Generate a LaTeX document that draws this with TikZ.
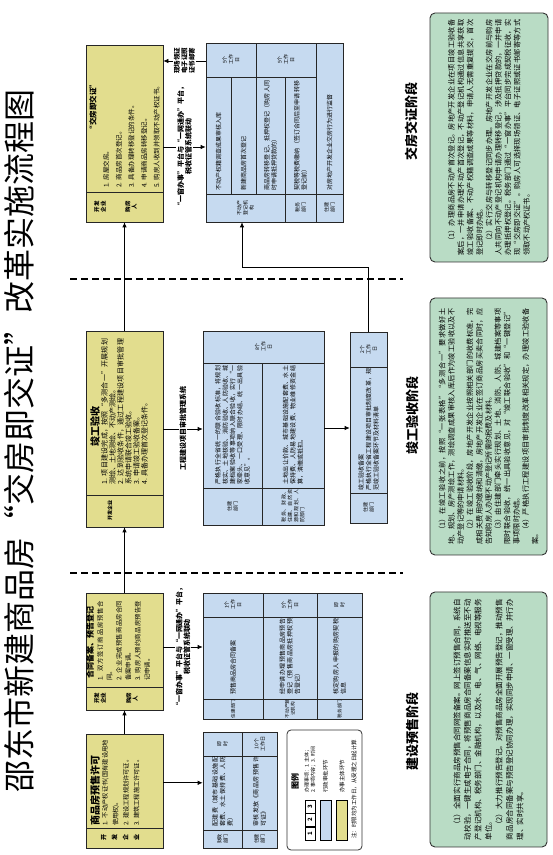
\documentclass[tikz,border=0pt]{standalone}
\usepackage{fontspec}
\setmainfont{Noto Sans CJK SC}
\XeTeXlinebreaklocale "zh"
\XeTeXlinebreakskip=0pt plus 1pt
\usepackage{xcolor}
\usepackage{tikz}
\usetikzlibrary{arrows.meta, positioning, calc}

\definecolor{stepyellow}{HTML}{E2DD8E}
\definecolor{stepblue}{HTML}{C6DAF0}
\definecolor{stagegreen}{HTML}{B9DCC5}

\begin{document}
\begin{tikzpicture}[x=1pt, y=1pt, rotate=90, transform shape,
  ybox/.style={draw=black!85, fill=stepyellow, line width=0.7pt, inner sep=0pt},
  bbox/.style={draw=black!85, fill=stepblue, line width=0.7pt, inner sep=0pt},
  gbox/.style={draw=black!80, fill=stagegreen, line width=0.9pt, rounded corners=5pt, inner sep=0pt},
  boxsize/.style 2 args={minimum width=#1pt, minimum height=#2pt},
  cellline/.style={draw=black!85, line width=0.6pt},
  cell/.style={inner sep=0pt, align=center, font=\fontsize{5}{6.2}\selectfont},
  para/.style={inner sep=0pt, align=justify, text width=#1pt},
  steptitle/.style={inner sep=0pt, font=\bfseries\fontsize{#1}{#1}\selectfont},
  flow/.style={-{Latex[length=5pt,width=4.5pt]}, line width=0.7pt},
  lbl/.style={fill=white, inner sep=1pt, align=center, font=\bfseries\fontsize{7}{7.8}\selectfont},
  stageline/.style={line width=1.1pt, dash pattern=on 7pt off 4pt},
  stagehead/.style={font=\bfseries\fontsize{13}{13}\selectfont}
]
  \useasboundingbox (0,0) rectangle (855,-553);
  \fill[white] (0,0) rectangle (855,-553);

  % title
  \node[font=\fontsize{32}{32}\selectfont] (title) at (414,-19.5)
    {邵东市新建商品房“交房即交证”改革实施流程图};

  % stage borders
  \draw[stageline] (282,-70) -- (282,-403);
  \draw[stageline] (576,-70) -- (576,-403);

  % stage 1: pre-sale permit
  \node[ybox, boxsize={114}{77}] (ysale) at (64,-124.5) {};
  \draw[cellline] (27,-86) -- (27,-163);
  \node[cell, font=\bfseries\fontsize{6}{11}\selectfont] (saledev) at (17,-120) {开\\发\\企\\业};
  \node[steptitle=10, anchor=west] (saletitle) at (29,-95) {商品房预售许可};
  \node[para=86, anchor=north west, font=\fontsize{6.2}{10.5}\selectfont] (salebody) at (29,-102)
    {1. 不动产权证书(国有建设用地使用权)。\\2. 建设工程规划许可证。\\3. 建筑工程施工许可证。};

  % stage 1: contract filing and advance registration
  \node[ybox, boxsize={117}{77}] (ycontract) at (203.5,-124.5) {};
  \draw[cellline] (168,-86) -- (168,-163);
  \node[cell, font=\bfseries\fontsize{5.5}{6.5}\selectfont] (contractdev) at (156.5,-100) {开发\\企业};
  \node[cell, font=\bfseries\fontsize{5.5}{6.5}\selectfont] (contractbuyer) at (156.5,-132) {购房\\人};
  \node[steptitle=8, anchor=west] (contracttitle) at (176,-90) {合同备案、预告登记};
  \node[para=80, anchor=north west, font=\fontsize{6.3}{9.4}\selectfont] (contractbody) at (174,-97)
    {1. 双方签订商品房预售合同。\\2. 企业完成预售商品房合同备案申请。\\3. 购房人预约商品房预告登记申请。};

  % stage 2: completion acceptance
  \node[ybox, boxsize={196}{77}] (yaccept) at (426,-124.5) {};
  \draw[cellline] (360,-86) -- (360,-163);
  \node[cell, font=\bfseries\fontsize{5}{6}\selectfont] (acceptdev) at (344,-110) {开发企业};
  \node[steptitle=10] (accepttitle) at (428,-95) {竣工验收};
  \node[para=146, anchor=north west, font=\fontsize{7}{8}\selectfont] (acceptbody) at (370,-101)
    {1. 项目建设完成，按照“多测合一”开展规划测绘、土地测绘、不动产测绘。\\2. 达到验收条件，通过工程建设项目审批管理系统申请联合竣工验收。\\3. 申请竣工验收备案。\\4. 具备办理首次登记条件。};

  % stage 3: handover with certificate
  \node[ybox, boxsize={177}{77}] (ydeliver) at (721.5,-124.5) {};
  \draw[cellline] (663,-86) -- (663,-163);
  \node[cell, font=\bfseries\fontsize{5.5}{6.5}\selectfont] (deliverdev) at (648,-100) {开发\\企业};
  \node[cell, font=\bfseries\fontsize{5.5}{6.5}\selectfont] (deliverbuyer) at (648,-131) {购房\\人};
  \node[steptitle=7.5] (delivertitle) at (748,-93) {“交房即交证”};
  \node[para=140, anchor=north west, font=\fontsize{6.5}{12.6}\selectfont] (deliverbody) at (667,-103)
    {1. 房屋交房。\\2. 商品房首次登记。\\3. 具备办理转移登记的条件。\\4. 申请商品房转移登记。\\5. 购房人收到并领取不动产权证书。};

  % departments: pre-sale permit
  \node[bbox, boxsize={116}{74}] (bsale) at (65,-240) {};
  \draw[cellline] (25,-203) -- (25,-277);
  \draw[cellline] (99,-203) -- (99,-277);
  \draw[cellline] (7,-242) -- (123,-242);
  \node[cell] (feerole) at (16,-222.5) {财政\\部门};
  \node[para=70, anchor=west, font=\fontsize{6}{7.5}\selectfont] (feetext) at (28,-222.5)
    {配建费（城市基础设施配套费、水土保持费、人防费）};
  \node[cell] (feetime) at (111,-222.5) {即\\时};
  \node[cell] (permitrole) at (16,-259.5) {住建\\部门};
  \node[para=70, anchor=west, font=\fontsize{6}{7.5}\selectfont] (permittext) at (28,-259.5)
    {审核发放《商品房预售许可证》};
  \node[cell] (permittime) at (111,-259.5) {10个\\工作日};

  % departments: contract filing
  \node[bbox, boxsize={126}{159}] (bcontract) at (199,-282.5) {};
  \draw[cellline] (156,-203) -- (156,-362);
  \draw[cellline] (238,-203) -- (238,-362);
  \draw[cellline] (136,-263) -- (262,-263);
  \draw[cellline] (136,-317) -- (262,-317);
  \node[cell, font=\fontsize{4.6}{5.8}\selectfont] (filerole) at (146,-233) {住建部门};
  \node[para=76, anchor=west, font=\fontsize{6}{7.5}\selectfont] (filetext) at (160,-233) {预售商品房合同备案};
  \node[cell] (filetime) at (250,-233) {1个\\工作\\日};
  \node[cell, font=\fontsize{4.6}{5.8}\selectfont] (noticerole) at (146,-290) {不动产登\\记机构};
  \node[para=76, anchor=west, font=\fontsize{6}{7.5}\selectfont] (noticetext) at (160,-290)
    {经申请办理预售商品房预告登记（预售商品房抵押权预告登记）};
  \node[cell] (noticetime) at (250,-290) {5个\\工作\\日};
  \node[cell, font=\fontsize{4.6}{5.8}\selectfont] (taxrole) at (146,-339.5) {税务部门};
  \node[para=76, anchor=west, font=\fontsize{6}{7.5}\selectfont] (taxtext) at (160,-339.5)
    {核定购房人申报的购房契税信息};
  \node[cell] (taxtime) at (250,-339.5) {即\\时};

  % departments: acceptance
  \node[bbox, boxsize={194}{121}] (bcheck) at (427,-263.5) {};
  \draw[cellline] (367,-203) -- (367,-324);
  \draw[cellline] (492,-203) -- (492,-324);
  \draw[cellline] (330,-262) -- (492,-262);
  \node[cell] (checktime) at (508,-263.5) {8个\\工作\\日};
  \node[cell] (checkrole) at (348.5,-232.5) {住建\\部门};
  \node[para=119, anchor=west, font=\fontsize{6}{7.3}\selectfont] (checktext) at (370,-232.5)
    {严格执行全省统一的联合验收标准，将规划核实、土地核验、消防验收、人防验收、城建档案验收等事项纳入联合验收，实行“一家牵头、一口受理、限时办结、统一出具验收意见”。};
  \node[para=33, font=\fontsize{5}{6.2}\selectfont] (payrole) at (348.5,-293) {税务、财政、住建、自然资源和规划、人防部门};
  \node[para=119, anchor=west, font=\fontsize{6}{7.3}\selectfont] (paytext) at (370,-293)
    {土地出让价款、城市基础设施配套费、水土保持费、人防易地建设费、物业维修资金结算，清缴或抵扣。};

  % departments: acceptance filing
  \node[bbox, boxsize={191}{37}] (brecord) at (427.5,-368.5) {};
  \draw[cellline] (362,-350) -- (362,-387);
  \draw[cellline] (488,-350) -- (488,-387);
  \node[cell] (recordrole) at (347,-368.5) {住建\\部门};
  \node[para=122, anchor=west, font=\fontsize{6}{7.5}\selectfont] (recordtext) at (364,-368.5)
    {竣工验收备案\\严格执行全省工程建设项目审批制度改革，规范竣工验收备案环节及材料清单};
  \node[cell] (recordtime) at (505.5,-368.5) {2个\\工作\\日};

  % departments: handover
  \node[bbox, boxsize={179}{137}] (bdeliver) at (722.5,-274.5) {};
  \draw[cellline] (661,-206) -- (661,-343);
  \draw[cellline] (778,-206) -- (778,-316);
  \draw[cellline] (661,-231) -- (778,-231);
  \draw[cellline] (661,-256) -- (812,-256);
  \draw[cellline] (633,-285) -- (778,-285);
  \draw[cellline] (633,-316) -- (812,-316);
  \node[cell] (regrole) at (647,-245.5) {不动产\\登记机\\构};
  \node[cell] (dtaxrole) at (647,-300.5) {税务\\部门};
  \node[cell] (superrole) at (647,-329.5) {住建\\部门};
  \node[cell] (firsttime) at (795,-231) {5个\\工作\\日};
  \node[cell] (transfertime) at (795,-286) {5个\\工作\\日};
  \node[para=110, anchor=west, font=\fontsize{6}{7.3}\selectfont] (surveytext) at (664,-218.5) {不动产权籍调查成果审核入库};
  \node[para=110, anchor=west, font=\fontsize{6}{7.3}\selectfont] (firsttext) at (664,-243.5) {新建商品房首次登记};
  \node[para=110, anchor=west, font=\fontsize{6}{7.3}\selectfont] (transfertext) at (664,-270.5)
    {商品房转移登记、抵押权登记（购房人同时申请抵押贷款的）};
  \node[para=110, anchor=west, font=\fontsize{6}{7.3}\selectfont] (dtaxtext) at (664,-300.5)
    {契税等税费缴纳（签订合同后至申请转移登记前）};
  \node[para=140, anchor=west, font=\fontsize{6}{7.3}\selectfont] (supertext) at (664,-329.5)
    {对房地产开发企业交房行为进行监督};

  % connectors
  \coordinate (contractpath) at (208,-183);
  \coordinate (deliverpath) at (708,-183);
  \coordinate (pickuppath) at (794,-183);
  \draw[flow] (ysale.east) -- (ycontract.west);
  \draw[flow] (ycontract.east) -- (yaccept.west);
  \draw[flow] (yaccept.east) -- (ydeliver.west);
  \draw[flow] (ysale.south -| salebody) -- (bsale.north -| salebody);
  \draw[flow] (ycontract.south -| contractpath) -- node[lbl] (contractlink)
    {“一窗办事”平台与“一网通办”平台，\\税收征管系统联动} (bcontract.north -| contractpath);
  \draw[flow] (yaccept.south) -- node[lbl] (systemlink) {工程建设项目审批管理系统} (yaccept.south |- bcheck.north);
  \draw[flow] (bcheck.south) -- (bcheck.south |- brecord.north);
  \coordinate (bend) at (588,-242);
  \draw[flow] (brecord.east) -| (bend) -- (bend -| bdeliver.west);
  \draw[flow] (ydeliver.south -| deliverpath) -- node[lbl] (deliverlink)
    {“一窗办事”平台与“一网通办”平台，\\税收征管系统联动} (bdeliver.north -| deliverpath);
  \draw[flow] (bdeliver.north -| pickuppath) -- node[lbl, font=\bfseries\fontsize{6.5}{7.5}\selectfont] (pickuplink)
    {现场领证\\电子证照\\证书邮寄} (ydeliver.south -| pickuppath);

  % legend
  \node[draw=black!80, line width=0.8pt, rounded corners=4pt, fill=white, boxsize={120}{75}] (legend) at (65,-324.5) {};
  \node[font=\bfseries\fontsize{8}{8}\selectfont] (legendtitle) at (73.5,-295) {图例};
  \node[draw, line width=0.5pt, boxsize={13}{10}, inner sep=0pt, font=\bfseries\fontsize{6}{6}\selectfont] (key1) at (21.5,-310) {1};
  \node[draw, line width=0.5pt, boxsize={13}{10}, inner sep=0pt, font=\bfseries\fontsize{6}{6}\selectfont, right=0pt of key1] (key2) {2};
  \node[draw, line width=0.5pt, boxsize={13}{10}, inner sep=0pt, font=\bfseries\fontsize{6}{6}\selectfont, right=0pt of key2] (key3) {3};
  \node[cell, anchor=west, align=left] (keytext) at (62,-310) {办理事项：1. 主体；\\2. 事项内容；3. 时间};
  \node[draw, line width=0.5pt, fill=stepblue, boxsize={40}{11}] (keyblue) at (35,-325.5) {};
  \node[cell, anchor=west, font=\fontsize{5.5}{6}\selectfont] (keybluetext) at (62,-325.5) {行政审批环节};
  \node[draw, line width=0.5pt, fill=stepyellow, boxsize={40}{11}] (keyyellow) at (35,-342) {};
  \node[cell, anchor=west, font=\fontsize{5.5}{6}\selectfont] (keyyellowtext) at (62,-342) {办事主体环节};
  \node[cell, anchor=west, font=\fontsize{5.5}{6}\selectfont] (keynote) at (16,-354) {注：时限均为工作日，从受理之日起计算};

  % stage notes
  \node[stagehead] (head1) at (123,-412) {建设预售阶段};
  \node[gbox, boxsize={255}{117}] (note1) at (135.5,-488.5) {};
  \node[para=241, font=\fontsize{7.5}{10.5}\selectfont] (note1text) at (note1)
    {\hspace*{1.5em}（1）全面实行商品房预售合同网签备案。网上签订预售合同，系统自动校验，一键生成电子合同，将预售商品房合同备案信息实时推送至不动产登记机构、税务部门、金融机构，以及水、电、气、网络、电视等服务单位。\\
     \hspace*{1.5em}（2）大力推行预告登记。对预售商品房全面开展预告登记，推动预售商品房合同备案与预告登记协同办理，实现同步申请、一窗受理、并行办理、实时共享。};

  \node[stagehead] (head2) at (439,-412) {竣工验收阶段};
  \node[gbox, boxsize={257}{117}] (note2) at (428.5,-488.5) {};
  \node[para=236, font=\fontsize{7.2}{9.3}\selectfont] (note2text) at (note2)
    {\hspace*{1.5em}（1）在竣工验收之前，按照“一张表格”“多测合一”要求做好土地、规划、房产测绘工作，测绘调查成果审核入库后作为竣工验收以及不动产登记等的申请材料。\\
     \hspace*{1.5em}（2）在竣工验收阶段，房地产开发企业按照相关部门的收费标准，完成相关费用的缴纳和清缴，房地产开发企业在签订商品房买卖合同时，应告知购房人办理不动产登记所需的税费及材料。\\
     \hspace*{1.5em}（3）由住建部门牵头实行规划、土地、消防、人防、城建档案等事项限时联合验收，统一出具验收意见，对“竣工联合验收”和“一键登记”事项限时办结。\\
     \hspace*{1.5em}（4）严格执行工程建设项目审批制度改革相关规定，办理竣工验收备案。};

  \node[stagehead] (head3) at (733,-412) {交房交证阶段};
  \node[gbox, boxsize={249}{118}] (note3) at (717.5,-489) {};
  \node[para=236, font=\fontsize{7.2}{9.4}\selectfont] (note3text) at (note3)
    {\hspace*{1.5em}（1）办理商品房不动产首次登记。房地产开发企业在项目竣工验收备案后，一并申请办理不动产首次登记，不动产登记机构通过信息共享获取竣工验收备案、不动产权籍调查成果等材料，申请人无需重复提交，首次登记即时办结。\\
     \hspace*{1.5em}（2）实行交房与转移登记同步办理。房地产开发企业在交房前与购房人共同向不动产登记机构申请办理转移登记，涉及抵押贷款的，一并申请办理抵押权登记。税务部门通过“一窗办事”平台同步完成契税征收，实现“交房即交证”。购房人可选择现场领证、电子证照或证书邮寄等方式领取不动产权证书。};
\end{tikzpicture}
\end{document}
